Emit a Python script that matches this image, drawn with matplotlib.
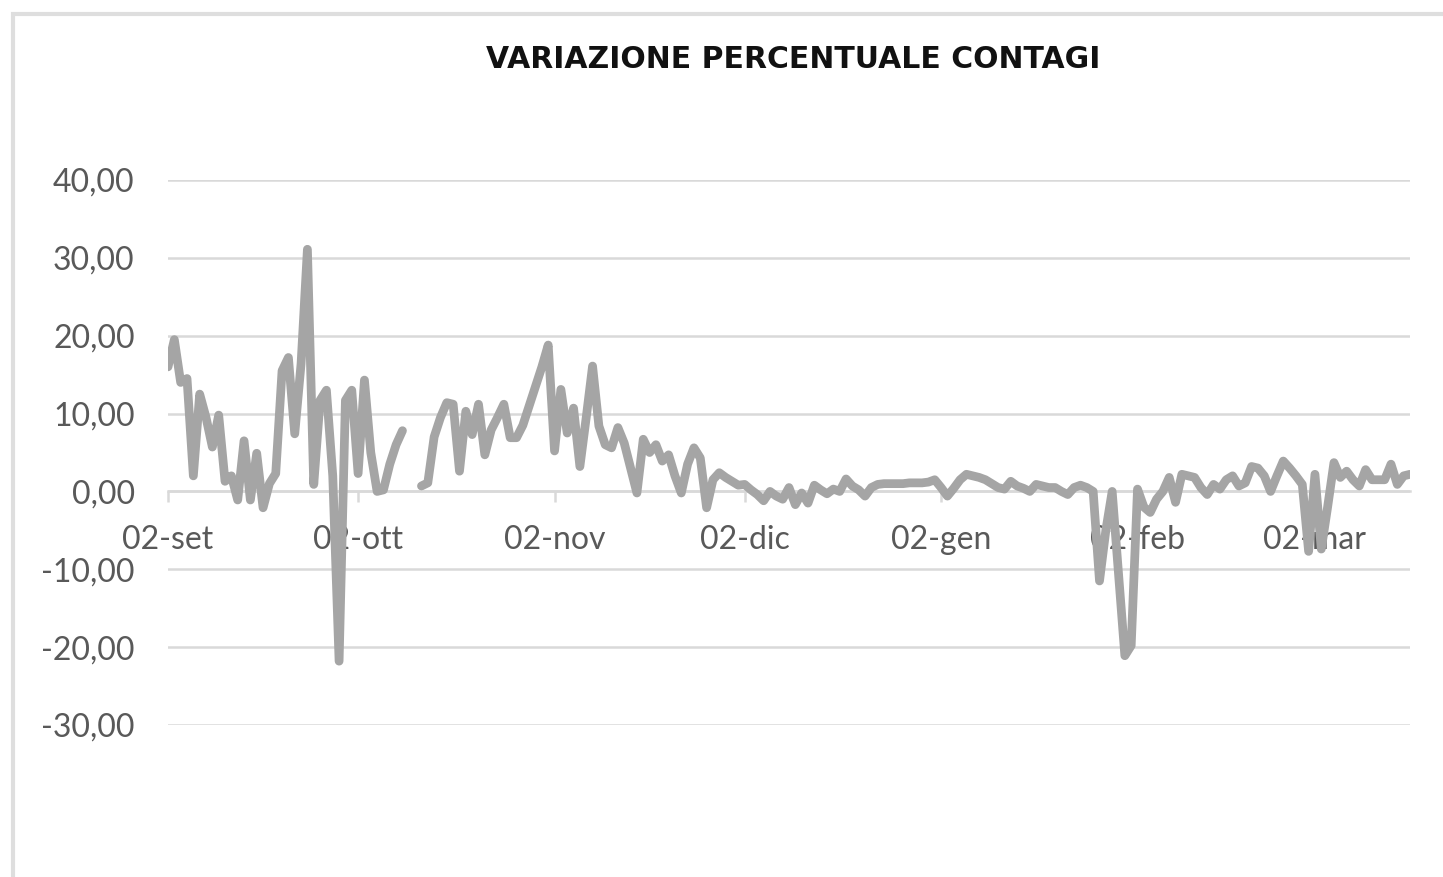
import matplotlib
matplotlib.use("Agg")
import numpy as np
import pandas as pd
import matplotlib.pyplot as plt
from matplotlib.patches import Rectangle

# Dati: variazione percentuale giornaliera dei contagi (dal 02-set)
data_inizio = "2020-09-02"
variazione = [
    16.0, 19.5, 14.0, 14.5, 2.0, 12.5, 9.5, 5.7, 9.8, 1.3,
    2.0, -1.1, 6.5, -1.1, 4.9, -2.1, 1.0, 2.3, 15.5, 17.2,
    7.4, 16.4, 31.1, 0.9, 11.7, 13.0, 2.0, -21.8, 11.7, 13.0,
    2.3, 14.3, 5.0, 0.0, 0.2, 3.5, 6.0, 7.8, np.nan, np.nan,
    0.7, 1.1, 7.0, 9.5, 11.4, 11.2, 2.6, 10.3, 7.3, 11.2,
    4.7, 7.9, 9.5, 11.2, 6.9, 6.9, 8.5, 11.0, 13.5, 16.0,
    18.8, 5.2, 13.1, 7.5, 10.7, 3.2, 9.5, 16.1, 8.4, 6.0,
    5.6, 8.2, 6.2, 3.0, -0.2, 6.7, 5.0, 6.0, 3.9, 4.7,
    2.0, -0.2, 3.5, 5.6, 4.3, -2.1, 1.5, 2.4, 1.8, 1.3,
    0.8, 0.9, 0.2, -0.4, -1.2, 0.0, -0.6, -1.0, 0.5, -1.7,
    -0.2, -1.5, 0.8, 0.2, -0.3, 0.3, 0.0, 1.6, 0.7, 0.2,
    -0.6, 0.5, 0.9, 1.0, 1.0, 1.0, 1.0, 1.1, 1.1, 1.1,
    1.2, 1.5, 0.5, -0.6, 0.4, 1.5, 2.2, 2.0, 1.8, 1.5,
    1.0, 0.5, 0.3, 1.3, 0.7, 0.4, 0.0, 0.9, 0.7, 0.5,
    0.5, 0.0, -0.4, 0.5, 0.8, 0.5, 0.0, -11.5, -5.0, 0.0,
    -10.5, -21.1, -19.8, 0.3, -2.0, -2.7, -1.0, 0.0, 1.8, -1.4,
    2.2, 2.0, 1.8, 0.5, -0.4, 0.9, 0.3, 1.5, 2.0, 0.7,
    1.1, 3.2, 3.0, 2.0, 0.0, 2.0, 3.9, 3.0, 2.0, 0.9,
    -7.7, 2.2, -7.4, -2.0, 3.7, 1.8, 2.6, 1.5, 0.7, 2.8,
    1.5, 1.5, 1.5, 3.5, 0.9, 2.0, 2.2,
]
date_tick = ["2020-09-02", "2020-10-02", "2020-11-02", "2020-12-02",
             "2021-01-02", "2021-02-02", "2021-03-02"]
etichette_x = ["02-set", "02-ott", "02-nov", "02-dic", "02-gen", "02-feb", "02-mar"]
valori_y = [-30, -20, -10, 0, 10, 20, 30, 40]
etichette_y = ["-30,00", "-20,00", "-10,00", "0,00", "10,00", "20,00", "30,00", "40,00"]

date = pd.date_range(data_inizio, periods=len(variazione), freq="D")

W, H = 1443, 877
fig = plt.figure(figsize=(W / 100, H / 100), dpi=100)
fig.patch.set_facecolor("white")

# bordo dell'area grafico (tagliato a destra e in basso)
fig.patches.append(Rectangle((13 / W, -0.1), 1.2, 1 - 14 / H + 0.1,
                             transform=fig.transFigure, fill=False,
                             edgecolor="#dedede", linewidth=3))

ax = fig.add_axes([168 / W, 1 - 725 / H, (1410 - 168) / W, (725 - 180) / H])

ax.plot(date, variazione, color="#a5a5a5", linewidth=6.3,
        solid_joinstyle="round", solid_capstyle="round", zorder=3)

ax.set_xlim(date[0], date[-1])
ax.set_ylim(-30, 40)

ax.set_yticks(valori_y)
ax.set_yticklabels(etichette_y)
ax.set_xticks(pd.to_datetime(date_tick))
ax.set_xticklabels(etichette_x)

ax.grid(axis="y", color="#d9d9d9", linewidth=1.8, zorder=1)
ax.grid(axis="x", visible=False)

for s in ["top", "right", "left"]:
    ax.spines[s].set_visible(False)
ax.spines["bottom"].set_position(("data", 0))
ax.spines["bottom"].set_color("#d9d9d9")
ax.spines["bottom"].set_linewidth(1.8)
ax.spines["bottom"].set_zorder(2)

ax.tick_params(axis="y", length=0, pad=24, labelsize=23, labelcolor="#595959")
ax.tick_params(axis="x", length=8, width=1.8, color="#d9d9d9", direction="out",
               pad=16, labelsize=23, labelcolor="#595959")
for lab in ax.get_xticklabels() + ax.get_yticklabels():
    lab.set_fontfamily("Lato")

fig.text(793 / W, 1 - 60 / H, "VARIAZIONE PERCENTUALE CONTAGI",
         ha="center", va="center", fontsize=21.5, fontweight="bold",
         color="#111111", family="DejaVu Sans")

fig.savefig("out.png", dpi=100)
